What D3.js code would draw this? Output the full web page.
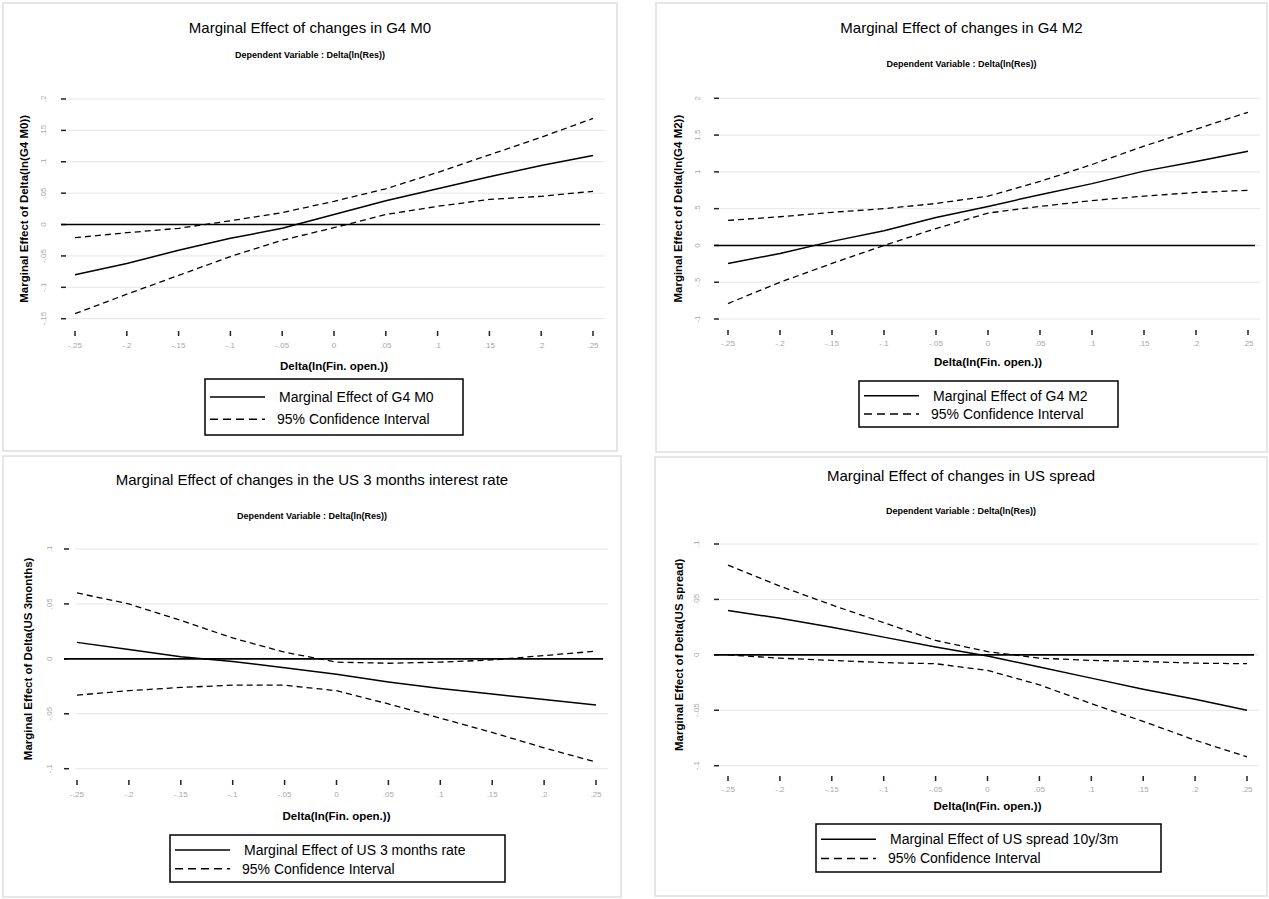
<!DOCTYPE html>
<html>
<head>
<meta charset="utf-8">
<script src="https://cdn.jsdelivr.net/npm/d3@7"></script>
<style>
  body { margin: 0; background: #fff; }
  text { font-family: "Liberation Sans", Arial, sans-serif; }
</style>
</head>
<body>
<div id="chart"></div>
<script>
// x values shared by all four panels
var xVals = [-0.25, -0.2, -0.15, -0.1, -0.05, 0, 0.05, 0.1, 0.15, 0.2, 0.25];
var xTickLabels = ["-.25", "-.2", "-.15", "-.1", "-.05", "0", ".05", ".1", ".15", ".2", ".25"];

// G4 M0
var m0Effect = [-0.080, -0.062, -0.041, -0.022, -0.006, 0.016, 0.038, 0.057, 0.076, 0.094, 0.110];
var m0Upper  = [-0.021, -0.013, -0.006, 0.006, 0.019, 0.037, 0.057, 0.083, 0.111, 0.139, 0.169];
var m0Lower  = [-0.142, -0.111, -0.081, -0.051, -0.025, -0.005, 0.016, 0.029, 0.040, 0.045, 0.053];
var m0Ticks = [0.2, 0.15, 0.1, 0.05, 0, -0.05, -0.1, -0.15];
var m0TickLabels = [".2", ".15", ".1", ".05", "0", "-.05", "-.1", "-.15"];

// G4 M2
var m2Effect = [-0.245, -0.11, 0.055, 0.20, 0.38, 0.53, 0.69, 0.84, 1.01, 1.14, 1.28];
var m2Upper  = [0.34, 0.39, 0.45, 0.50, 0.57, 0.67, 0.87, 1.10, 1.35, 1.58, 1.81];
var m2Lower  = [-0.79, -0.50, -0.245, 0.0, 0.23, 0.44, 0.53, 0.61, 0.67, 0.72, 0.75];
var m2Ticks = [2, 1.5, 1, 0.5, 0, -0.5, -1];
var m2TickLabels = ["2", "1.5", "1", ".5", "0", "-.5", "-1"];

// US 3 months interest rate
var us3mEffect = [0.015, 0.0085, 0.002, -0.0025, -0.008, -0.014, -0.021, -0.027, -0.032, -0.037, -0.042];
var us3mUpper  = [0.060, 0.050, 0.035, 0.019, 0.006, -0.003, -0.004, -0.003, -0.001, 0.003, 0.007];
var us3mLower  = [-0.033, -0.029, -0.026, -0.024, -0.024, -0.029, -0.041, -0.054, -0.067, -0.081, -0.094];
var us3mTicks = [0.1, 0.05, 0, -0.05, -0.1];
var us3mTickLabels = [".1", ".05", "0", "-.05", "-.1"];

// US spread
var spreadEffect = [0.040, 0.033, 0.025, 0.016, 0.007, -0.001, -0.011, -0.021, -0.031, -0.040, -0.050];
var spreadUpper  = [0.081, 0.062, 0.045, 0.029, 0.013, 0.003, -0.003, -0.005, -0.006, -0.0075, -0.008];
var spreadLower  = [0.0, -0.003, -0.005, -0.007, -0.008, -0.014, -0.027, -0.044, -0.060, -0.077, -0.092];
var spreadTicks = [0.1, 0.05, 0, -0.05, -0.1];
var spreadTickLabels = [".1", ".05", "0", "-.05", "-.1"];

var titles = [
  "Marginal Effect of changes in G4 M0",
  "Marginal Effect of changes in G4 M2",
  "Marginal Effect of changes in the US 3 months interest rate",
  "Marginal Effect of changes in US spread"
];
var subtitle = "Dependent Variable : Delta(ln(Res))";
var xTitle = "Delta(ln(Fin. open.))";
var yTitles = [
  "Marginal Effect of Delta(ln(G4 M0))",
  "Marginal Effect of Delta(ln(G4 M2))",
  "Marginal Effect of Delta(US 3months)",
  "Marginal Effect of Delta(US spread)"
];
var legendMain = [
  "Marginal Effect of G4 M0",
  "Marginal Effect of G4 M2",
  "Marginal Effect of US 3 months rate",
  "Marginal Effect of US spread 10y/3m"
];
var legendCI = "95% Confidence Interval";

var panels = [
  {effect: m0Effect, upper: m0Upper, lower: m0Lower, ticks: m0Ticks, tickLabels: m0TickLabels, yDomain: [-0.15, 0.2],
   card: [3, 3, 614, 448], x0: 75, x1: 593, yTop: 99, yBot: 318.7, gridL: 67, gridR: 605, tickX: 61, labX: 46, yTitleX: 24,
   titleY: 33, subY: 58, xTickY: 331, xLabY: 348, xTitleY: 370, legend: [205, 379, 258, 56]},
  {effect: m2Effect, upper: m2Upper, lower: m2Lower, ticks: m2Ticks, tickLabels: m2TickLabels, yDomain: [-1, 2],
   card: [656, 3, 611, 449], x0: 728, x1: 1248, yTop: 98.3, yBot: 319, gridL: 720, gridR: 1260, tickX: 714, labX: 700, yTitleX: 678,
   titleY: 33, subY: 67, xTickY: 330, xLabY: 346, xTitleY: 366, legend: [859, 381, 259, 46]},
  {effect: us3mEffect, upper: us3mUpper, lower: us3mLower, ticks: us3mTicks, tickLabels: us3mTickLabels, yDomain: [-0.1, 0.1],
   card: [3, 456, 618, 441], x0: 77, x1: 596, yTop: 549, yBot: 768.7, gridL: 75, gridR: 608, tickX: 64, labX: 52, yTitleX: 28,
   titleY: 485, subY: 519, xTickY: 780, xLabY: 797, xTitleY: 820, legend: [170, 835, 335, 47]},
  {effect: spreadEffect, upper: spreadUpper, lower: spreadLower, ticks: spreadTicks, tickLabels: spreadTickLabels, yDomain: [-0.1, 0.1],
   card: [655, 457, 612, 439], x0: 728, x1: 1247, yTop: 544, yBot: 765.7, gridL: 720, gridR: 1259, tickX: 714, labX: 699, yTitleX: 679,
   titleY: 481, subY: 514, xTickY: 776, xLabY: 792, xTitleY: 810, legend: [816, 824, 345, 48]}
];

var svg = d3.select("#chart")
  .append("svg")
  .attr("width", 1269)
  .attr("height", 899);

panels.forEach(function(p, i) {
  var g = svg.append("g");
  var cx = p.card[0] + p.card[2] / 2;

  g.append("rect")
    .attr("x", p.card[0]).attr("y", p.card[1])
    .attr("width", p.card[2]).attr("height", p.card[3])
    .attr("fill", "#fff").attr("stroke", "#dedede").attr("stroke-width", 1.5);

  var x = d3.scaleLinear().domain([-0.25, 0.25]).range([p.x0, p.x1]);
  var y = d3.scaleLinear().domain(p.yDomain).range([p.yBot, p.yTop]);

  // titles
  g.append("text").attr("x", cx).attr("y", p.titleY)
    .attr("text-anchor", "middle").style("font-size", "15px").text(titles[i]);
  g.append("text").attr("x", cx).attr("y", p.subY)
    .attr("text-anchor", "middle").style("font-size", "9px").style("font-weight", "bold").text(subtitle);

  // gridlines + y ticks
  g.selectAll(".grid").data(p.ticks).enter().append("line")
    .attr("x1", p.gridL).attr("x2", p.gridR)
    .attr("y1", function(d) { return y(d); }).attr("y2", function(d) { return y(d); })
    .attr("stroke", "#e6e6e6").attr("stroke-width", 1);
  g.selectAll(".ytick").data(p.ticks).enter().append("line")
    .attr("x1", p.tickX).attr("x2", p.tickX + 5)
    .attr("y1", function(d) { return y(d); }).attr("y2", function(d) { return y(d); })
    .attr("stroke", "#222").attr("stroke-width", 1.5);
  g.selectAll(".ylab").data(p.ticks).enter().append("text")
    .attr("transform", function(d) { return "translate(" + p.labX + "," + y(d) + ")rotate(-90)"; })
    .attr("text-anchor", "middle")
    .style("font-size", "8px").style("fill", "#a8a8a8")
    .text(function(d, j) { return p.tickLabels[j]; });

  // x ticks
  g.selectAll(".xtick").data(xVals).enter().append("line")
    .attr("x1", function(d) { return x(d); }).attr("x2", function(d) { return x(d); })
    .attr("y1", p.xTickY).attr("y2", p.xTickY + 5)
    .attr("stroke", "#222").attr("stroke-width", 1.5);
  g.selectAll(".xlab").data(xVals).enter().append("text")
    .attr("x", function(d) { return x(d); }).attr("y", p.xLabY)
    .attr("text-anchor", "middle")
    .style("font-size", "8px").style("fill", "#a8a8a8")
    .text(function(d, j) { return xTickLabels[j]; });

  // axis titles
  g.append("text").attr("x", (p.x0 + p.x1) / 2).attr("y", p.xTitleY)
    .attr("text-anchor", "middle").style("font-size", "11.5px").style("font-weight", "bold").text(xTitle);
  g.append("text")
    .attr("transform", "translate(" + p.yTitleX + "," + (p.yTop + p.yBot) / 2 + ")rotate(-90)")
    .attr("text-anchor", "middle").attr("dy", "0.35em")
    .style("font-size", "11.5px").style("font-weight", "bold").text(yTitles[i]);

  // zero line
  g.append("line")
    .attr("x1", p.tickX).attr("x2", p.x1 + 7)
    .attr("y1", y(0)).attr("y2", y(0))
    .attr("stroke", "#000").attr("stroke-width", 1.6);

  var line = d3.line()
    .x(function(d) { return x(d[0]); })
    .y(function(d) { return y(d[1]); });

  [p.upper, p.lower].forEach(function(arr) {
    g.append("path")
      .datum(d3.zip(xVals, arr))
      .attr("d", line)
      .attr("fill", "none").attr("stroke", "#000")
      .attr("stroke-width", 1.3).attr("stroke-dasharray", "6,4");
  });
  g.append("path")
    .datum(d3.zip(xVals, p.effect))
    .attr("d", line)
    .attr("fill", "none").attr("stroke", "#000").attr("stroke-width", 1.5);

  // legend
  var L = p.legend;
  var lg = g.append("g").attr("transform", "translate(" + L[0] + "," + L[1] + ")");
  lg.append("rect").attr("width", L[2]).attr("height", L[3])
    .attr("fill", "#fff").attr("stroke", "#000").attr("stroke-width", 1.5);
  var r1 = L[3] * 0.32, r2 = L[3] * 0.72;
  lg.append("line").attr("x1", 5).attr("x2", 60).attr("y1", r1).attr("y2", r1)
    .attr("stroke", "#000").attr("stroke-width", 1.5);
  lg.append("line").attr("x1", 5).attr("x2", 60).attr("y1", r2).attr("y2", r2)
    .attr("stroke", "#000").attr("stroke-width", 1.5).attr("stroke-dasharray", "8,5");
  lg.append("text").attr("x", 74).attr("y", r1).attr("dy", "0.35em")
    .style("font-size", "14px").text(legendMain[i]);
  lg.append("text").attr("x", 72).attr("y", r2).attr("dy", "0.35em")
    .style("font-size", "14px").text(legendCI);
});
</script>
</body>
</html>
